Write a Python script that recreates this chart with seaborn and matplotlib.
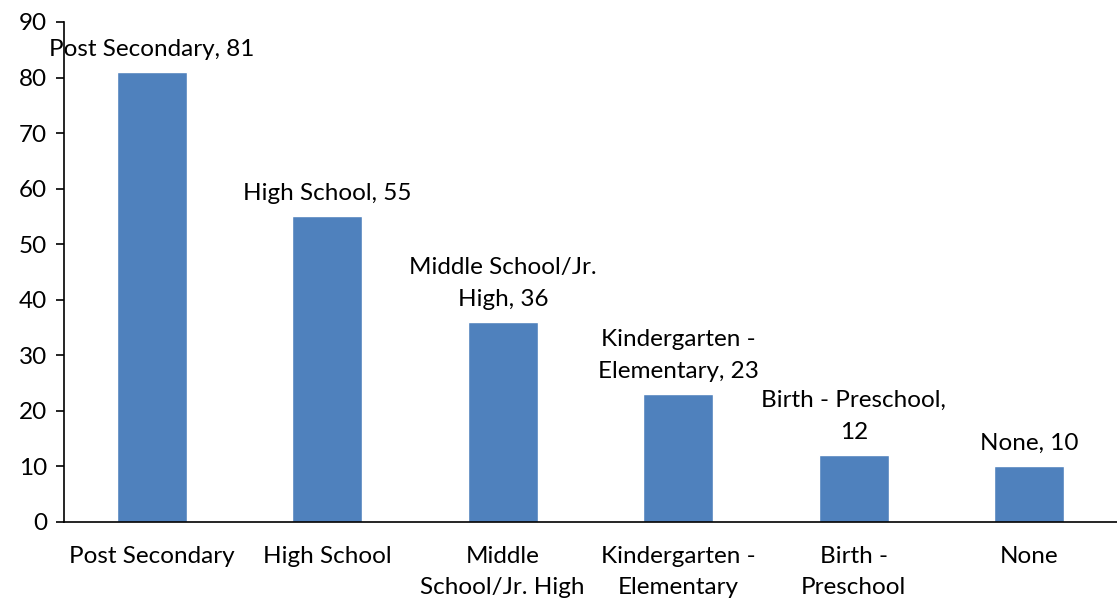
import matplotlib
matplotlib.use("Agg")
import matplotlib.pyplot as plt
import seaborn as sns
import pandas as pd
import numpy as np

categories = ["Post Secondary", "High School", "Middle School/Jr. High",
              "Kindergarten - Elementary", "Birth - Preschool", "None"]
tick_labels = ["Post Secondary", "High School", "Middle\nSchool/Jr. High",
               "Kindergarten -\nElementary", "Birth -\nPreschool", "None"]
data_labels = ["Post Secondary, 81", "High School, 55", "Middle School/Jr.\nHigh, 36",
               "Kindergarten -\nElementary, 23", "Birth - Preschool,\n12", "None, 10"]
values = [81, 55, 36, 23, 12, 10]

sns.set_theme(style="white")
plt.rcParams['font.family'] = ['Lato', 'DejaVu Sans']

FS = 17.5
LS = 1.62
df = pd.DataFrame({"cat": categories, "val": values})
fig = plt.figure(figsize=(11.17, 6.06), dpi=100)
ax = fig.add_axes([64/1117, 84/606, 1 - 64/1117, 500/606])
sns.barplot(data=df, x="cat", y="val", color="#4F81BD", saturation=1,
            width=0.4, ax=ax)

ax.set_xlim(-0.5, 5.5)
ax.set_ylim(0, 90)
ax.set_yticks(range(0, 91, 10))
ax.set_xlabel("")
ax.set_ylabel("")
ax.set_xticks(range(len(categories)))
ax.set_xticklabels(tick_labels, fontsize=FS, color="black", linespacing=LS)
ax.set_xticks(np.arange(-0.5, 5.6, 1), minor=True)
ax.tick_params(axis="x", which="major", length=0, pad=17)
ax.tick_params(axis="x", which="minor", length=6, width=1.2, color="black", direction="out")
ax.tick_params(axis="y", length=6, width=1.2, color="black", direction="out",
               labelsize=FS, labelcolor="black", pad=6, left=True)
for s in ["top", "right"]:
    ax.spines[s].set_visible(False)
for s in ["left", "bottom"]:
    ax.spines[s].set_color("black")
    ax.spines[s].set_linewidth(1.2)

for i, (v, lab) in enumerate(zip(values, data_labels)):
    ax.annotate(lab, xy=(i, v), xytext=(0, 9), textcoords="offset points",
                ha="center", va="bottom", fontsize=FS, color="black",
                linespacing=LS, annotation_clip=False)

fig.savefig("out.png", dpi=100)
